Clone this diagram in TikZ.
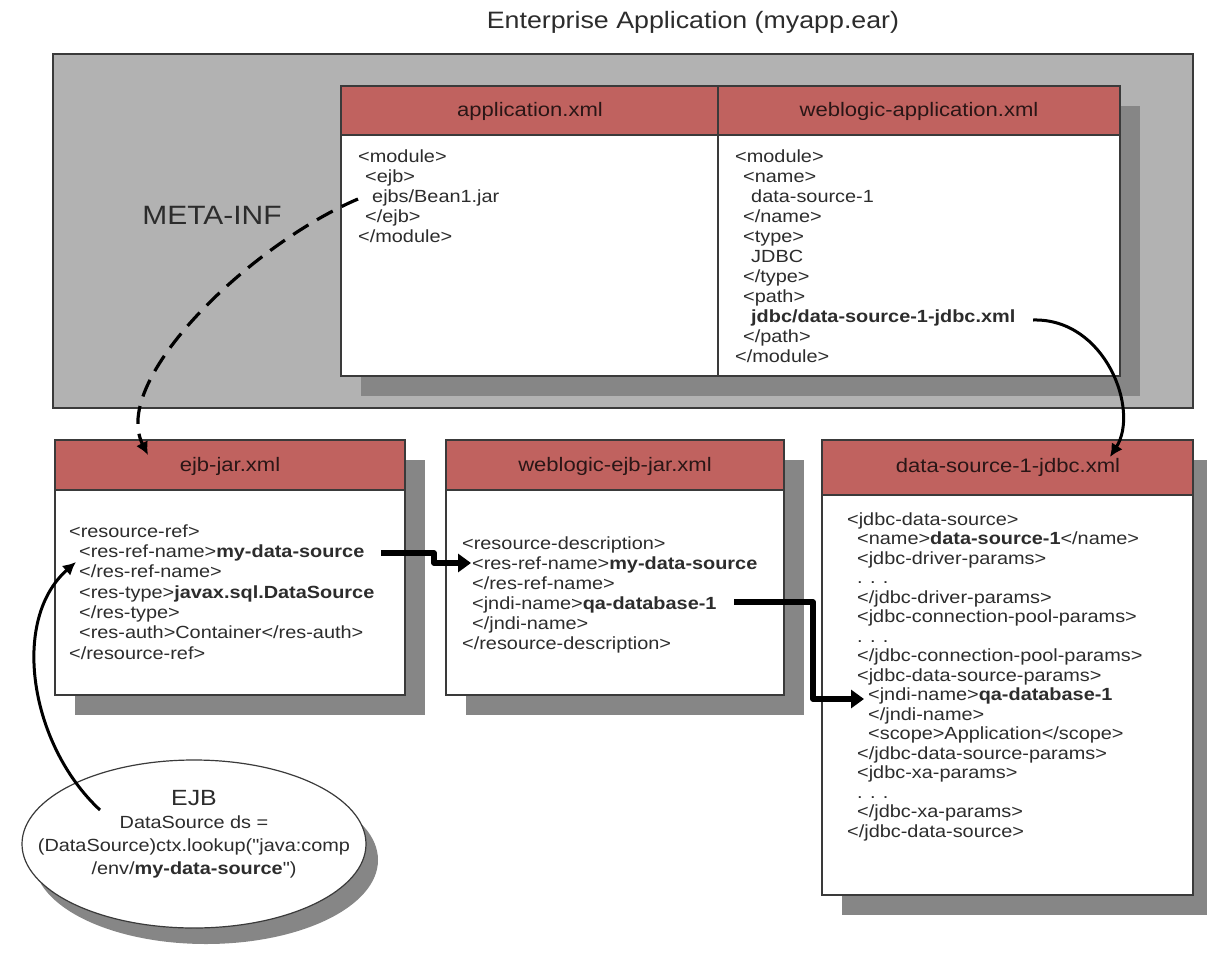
\documentclass[tikz,border=0pt]{standalone}
\usepackage{fontspec}
\setmainfont{Liberation Sans}[FakeStretch=1.13,Ligatures=TeXOff]
\usetikzlibrary{arrows.meta,shapes.geometric}
\definecolor{hdrred}{HTML}{C0625F}
\definecolor{outergray}{HTML}{B2B2B2}
\definecolor{shadowgray}{HTML}{868686}
\definecolor{edgec}{HTML}{3A3A3A}
\definecolor{txt}{HTML}{2C2C2C}
\definecolor{hdrtxt}{HTML}{2A1616}
\newcommand{\indA}{\hspace*{10bp}}
\newcommand{\indB}{\hspace*{21bp}}
\newcommand{\firststrut}{\rule{0pt}{13bp}}
\begin{document}
\begin{tikzpicture}[x=1bp,y=-1bp,
  frame/.style={draw=edgec,line width=1.4bp},
  hdrtext/.style={font=\fontsize{19.5bp}{23bp}\selectfont,text=hdrtxt,inner sep=0},
  body/.style={anchor=north west,inner sep=0,align=left,font=\fontsize{17.6bp}{20bp}\selectfont,text=txt},
  thickarrow/.style={line width=5.5bp,line join=round,-{Triangle[length=13bp,width=18bp]}},
  curvearrow/.style={line width=3bp,-{Latex[length=13bp,width=13bp]}},
  dasharrow/.style={line width=3.2bp,dash pattern=on 18bp off 10bp,-{Latex[length=13bp,width=13bp]}}
]
\useasboundingbox (0,0) rectangle (1207,956);
\fill[white] (0,0) rectangle (1207,956);

% title
\node[font=\fontsize{23.7bp}{28bp}\selectfont,text=txt] (title) at (693,22) {Enterprise Application (myapp.ear)};

% outer enterprise box
\draw[frame,fill=outergray] (53,54) rectangle (1193,408);
\node[font=\fontsize{26.5bp}{30bp}\selectfont,text=txt] (metainf) at (212,215) {META-INF};

% top table
\fill[shadowgray] (361,106) rectangle (1140,396);
\draw[frame,fill=white] (341,86) rectangle (1120,376);
\draw[frame,fill=hdrred] (341,86) rectangle (1120,135);
\draw[frame] (718,86) -- (718,376);
\node[hdrtext] (apph) at (530,111) {application.xml};
\node[hdrtext] (wlah) at (919,111) {weblogic-application.xml};

\node[body] (appbody) at (358,149) {\firststrut<module>\\
\hspace*{7bp}<ejb>\\
\hspace*{14bp}ejbs/Bean1.jar\\
\hspace*{7bp}</ejb>\\
</module>};

\node[body] (wlabody) at (735,149) {\firststrut<module>\\
\hspace*{8bp}<name>\\
\hspace*{16bp}data-source-1\\
\hspace*{8bp}</name>\\
\hspace*{8bp}<type>\\
\hspace*{16bp}JDBC\\
\hspace*{8bp}</type>\\
\hspace*{8bp}<path>\\
\hspace*{16bp}\textbf{jdbc/data-source-1-jdbc.xml}\\
\hspace*{8bp}</path>\\
</module>};

% ejb-jar.xml
\fill[shadowgray] (75,460) rectangle (425,715);
\draw[frame,fill=white] (55,440) rectangle (405,695);
\draw[frame,fill=hdrred] (55,440) rectangle (405,490);
\node[hdrtext] (ejbh) at (230,466) {ejb-jar.xml};
\node[body,font=\fontsize{17.6bp}{20.3bp}\selectfont] (ejbbody) at (69,524) {\firststrut<resource-ref>\\
\indA<res-ref-name>\textbf{my-data-source}\\
\indA</res-ref-name>\\
\indA<res-type>\textbf{javax.sql.DataSource}\\
\indA</res-type>\\
\indA<res-auth>Container</res-auth>\\
</resource-ref>};

% weblogic-ejb-jar.xml
\fill[shadowgray] (466,460) rectangle (804,715);
\draw[frame,fill=white] (446,440) rectangle (784,695);
\draw[frame,fill=hdrred] (446,440) rectangle (784,490);
\node[hdrtext] (wejbh) at (615,466) {weblogic-ejb-jar.xml};
\node[body] (wejbbody) at (462,536) {\firststrut<resource-description>\\
\indA<res-ref-name>\textbf{my-data-source}\\
\indA</res-ref-name>\\
\indA<jndi-name>\textbf{qa-database-1}\\
\indA</jndi-name>\\
</resource-description>};

% data-source-1-jdbc.xml
\fill[shadowgray] (842,460) rectangle (1213,915);
\draw[frame,fill=white] (822,440) rectangle (1193,895);
\draw[frame,fill=hdrred] (822,440) rectangle (1193,495);
\node[hdrtext] (dsh) at (1008,467) {data-source-1-jdbc.xml};
\node[body,font=\fontsize{17.6bp}{19.5bp}\selectfont] (dsbody) at (847,512) {\firststrut<jdbc-data-source>\\
\indA<name>\textbf{data-source-1}</name>\\
\indA<jdbc-driver-params>\\
\indA. . .\\
\indA</jdbc-driver-params>\\
\indA<jdbc-connection-pool-params>\\
\indA. . .\\
\indA</jdbc-connection-pool-params>\\
\indA<jdbc-data-source-params>\\
\indB<jndi-name>\textbf{qa-database-1}\\
\indB</jndi-name>\\
\indB<scope>Application</scope>\\
\indA</jdbc-data-source-params>\\
\indA<jdbc-xa-params>\\
\indA. . .\\
\indA</jdbc-xa-params>\\
</jdbc-data-source>};

% EJB ellipse
\fill[shadowgray] (206,860) ellipse [x radius=172bp, y radius=84bp];
\node[ellipse,draw=edgec,line width=1.2bp,fill=white,minimum width=344bp,minimum height=168bp,inner sep=0] (ejbnode) at (194,844) {};
\node[align=center,text=txt,inner sep=0,font=\fontsize{17.6bp}{23bp}\selectfont] (ejbtext) at (194,834) {{\fontsize{22bp}{23bp}\selectfont EJB}\\
DataSource ds =\\
(DataSource)ctx.lookup("java:comp\\
/env/\textbf{my-data-source}")};

% connector end points
\coordinate (beanref) at (358,199);
\coordinate (ejbin) at (148,455);
\coordinate (jdbcpath) at (1033,320);
\coordinate (dsin) at (1110,457);
\coordinate (mydsA) at (381,553);
\coordinate (mydsB) at (471,563);
\coordinate (qaA) at (734,602);
\coordinate (qaB) at (864,699);
\coordinate (lookup) at (100,810);
\coordinate (resref) at (76,562);

% connectors
\draw[dasharrow] (beanref) .. controls (250,245) and (110,380) .. (ejbin);
\draw[curvearrow] (jdbcpath) .. controls (1105,318) and (1140,410) .. (dsin);
\draw[thickarrow] (mydsA) -- (434,553) -- (434,563) -- (mydsB);
\draw[thickarrow] (qaA) -- (813,602) -- (813,699) -- (qaB);
\draw[curvearrow] (lookup) .. controls (30,745) and (10,620) .. (resref);
\end{tikzpicture}
\end{document}
